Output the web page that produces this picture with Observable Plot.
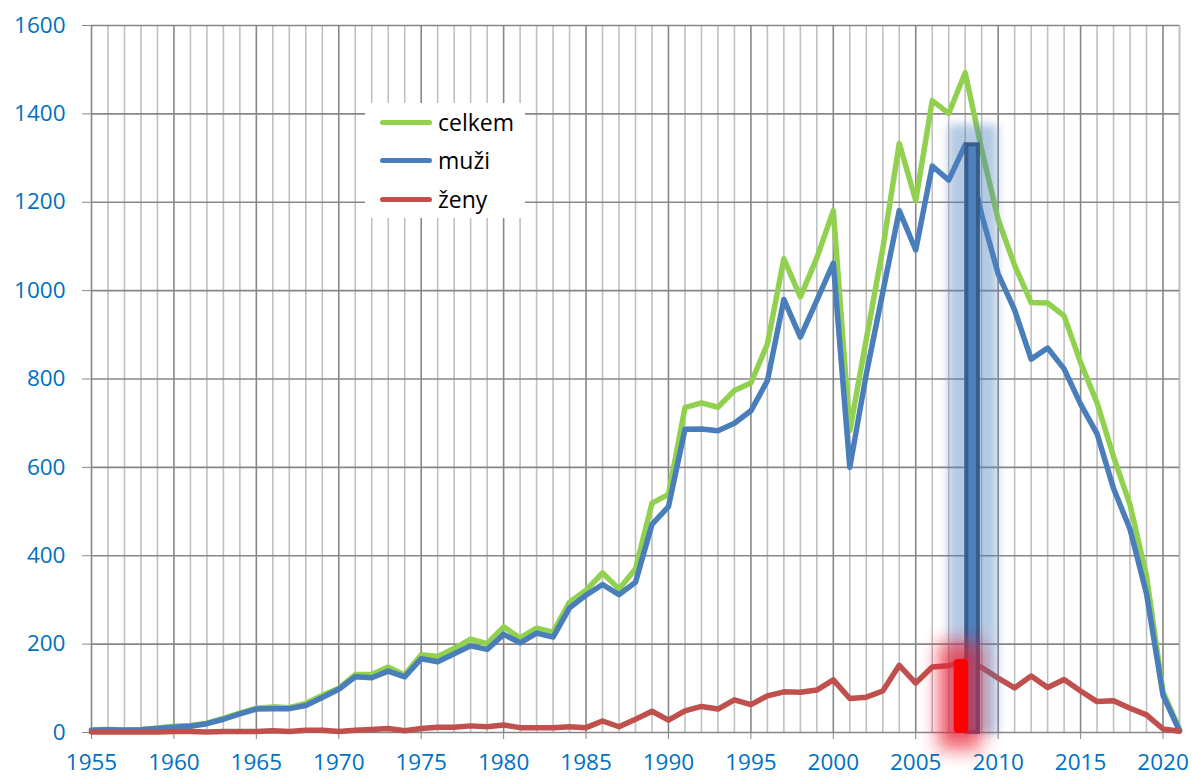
<!DOCTYPE html>
<html>
<head>
<meta charset="utf-8">
<script src="https://cdn.jsdelivr.net/npm/d3@7"></script>
<script src="https://cdn.jsdelivr.net/npm/@observablehq/plot@0.6"></script>
<style>
  html, body { margin: 0; padding: 0; background: #ffffff; }
  #wrap { position: relative; width: 1192px; height: 776px; }
  #legend { position: absolute; left: 365px; top: 103px; width: 160px; height: 115px; background: #ffffff;
            font-family: "Open Sans", sans-serif; font-size: 23px; color: #000; }
  .item { position: absolute; left: 0; height: 30px; display: flex; align-items: center; }
  .sw { display: inline-block; width: 52px; height: 5px; border-radius: 3px; margin-left: 15px; margin-right: 6px; }
</style>
</head>
<body>
<div id="wrap"></div>
<script>
// ---- data ----
const years = d3.range(1955, 2022);
const celkem = [6,7,6,7,10,14,16,21,32,44,55,58,56,66,84,100,131,131,148,130,176,172,190,211,201,239,214,236,227,295,322,361,325,370,519,539,735,746,736,774,791,879,1072,986,1074,1181,683,890,1095,1333,1204,1430,1401,1493,1319,1161,1057,973,972,943,837,746,624,515,354,92,7];
const muzi   = [5,6,5,6,9,12,14,20,30,42,53,54,54,61,79,98,126,124,139,126,167,160,178,196,188,222,203,225,216,282,311,335,312,340,471,511,686,687,683,700,728,796,980,895,978,1062,600,811,996,1181,1092,1282,1250,1330,1172,1038,956,845,870,823,743,676,552,460,314,84,4];
const zeny   = [1,1,1,1,1,2,2,1,2,2,2,4,2,5,5,2,5,7,9,4,9,12,12,15,13,17,11,11,11,13,11,26,13,30,48,28,49,59,53,74,63,83,92,91,96,119,77,80,94,152,112,148,151,163,147,123,101,128,102,120,94,70,72,55,40,8,3];
const xTicks = [1955,1960,1965,1970,1975,1980,1985,1990,1995,2000,2005,2010,2015,2020];
const yTicks = [0,200,400,600,800,1000,1200,1400,1600];
const seriesNames = ["celkem", "muži", "ženy"];
const seriesColors = ["#92d050", "#4a7ebb", "#c0504d"];
const highlightYear = 2008;

const rows = years.map((y, i) => ({year: y, celkem: celkem[i], muzi: muzi[i], zeny: zeny[i]}));
const hl = rows.filter(d => d.year === highlightYear);
const minorYears = years.filter(y => !xTicks.includes(y));

const chart = Plot.plot({
  width: 1192, height: 776,
  marginLeft: 91, marginRight: 13, marginTop: 25, marginBottom: 44,
  style: {fontFamily: "Open Sans", fontSize: "22.5px", color: "#868686", background: "#ffffff", overflow: "visible"},
  x: {domain: [1955, 2021], ticks: xTicks, tickFormat: d => String(d), tickSize: 7, tickPadding: 15, label: null},
  y: {domain: [0, 1600], ticks: yTicks, tickFormat: d => String(d), tickSize: 9, tickPadding: 17, label: null},
  marks: [
    Plot.ruleX(minorYears, {stroke: "#c0c0c0", strokeWidth: 1.6}),
    Plot.ruleX(xTicks, {stroke: "#878787", strokeWidth: 1.6}),
    Plot.ruleX([2021], {stroke: "#c0c0c0", strokeWidth: 1.6}),
    Plot.ruleY(yTicks, {stroke: "#878787", strokeWidth: 1.6}),
    Plot.line(rows, {x: "year", y: "celkem", stroke: seriesColors[0], strokeWidth: 5.5}),
    Plot.line(rows, {x: "year", y: "muzi", stroke: seriesColors[1], strokeWidth: 5.5}),
    Plot.line(rows, {x: "year", y: "zeny", stroke: seriesColors[2], strokeWidth: 5.5}),
    // blue glow + bar
    Plot.rectY(hl, {x1: d => d.year - 1, x2: d => d.year + 2, y1: -5, y2: d => d.muzi + 45,
      fill: "#4f81bd", fillOpacity: 0.42, ariaDescription: "glowblue"}),
    Plot.rectY(hl, {x1: d => d.year + 0.1, x2: d => d.year + 0.8, y1: 0, y2: "muzi",
      fill: "#4f81bd", stroke: "#385d8a", strokeWidth: 4}),
    // red glow + bar
    Plot.rectY(hl, {x1: d => d.year - 1.6, x2: d => d.year + 1.0, y1: -40, y2: d => d.zeny + 40,
      fill: "#f01c2c", fillOpacity: 0.7, ariaDescription: "glowred"}),
    Plot.rectY(hl, {x1: d => d.year - 0.6, x2: d => d.year + 0.15, y1: 0, y2: "zeny",
      fill: "#ff0000", stroke: "#ff0000", strokeWidth: 2, ariaDescription: "redbar"})
  ]
});

// filters for glows
const svgns = "http://www.w3.org/2000/svg";
const defs = document.createElementNS(svgns, "defs");
defs.innerHTML = `
  <filter id="fb" filterUnits="userSpaceOnUse" x="0" y="0" width="1192" height="776"><feGaussianBlur stdDeviation="5"/></filter>
  <filter id="fr" filterUnits="userSpaceOnUse" x="0" y="0" width="1192" height="776"><feGaussianBlur stdDeviation="9"/></filter>`;
chart.insertBefore(defs, chart.firstChild);
chart.querySelectorAll('[aria-description="glowblue"]').forEach(g => g.setAttribute("filter", "url(#fb)"));
chart.querySelectorAll('[aria-description="glowred"]').forEach(g => g.setAttribute("filter", "url(#fr)"));
chart.querySelectorAll('[aria-description="redbar"] rect').forEach(r => { r.setAttribute("rx", 3); r.setAttribute("ry", 3); });
chart.querySelectorAll("text").forEach(t => t.setAttribute("fill", "#0070c0"));

const wrap = document.getElementById("wrap");
wrap.appendChild(chart);

// legend
const legend = document.createElement("div");
legend.id = "legend";
const tops = [4, 42, 81];
seriesNames.forEach((name, i) => {
  const it = document.createElement("div");
  it.className = "item";
  it.style.top = tops[i] + "px";
  it.innerHTML = `<span class="sw" style="background:${seriesColors[i]}"></span><span>${name}</span>`;
  legend.appendChild(it);
});
wrap.appendChild(legend);
</script>
</body>
</html>
